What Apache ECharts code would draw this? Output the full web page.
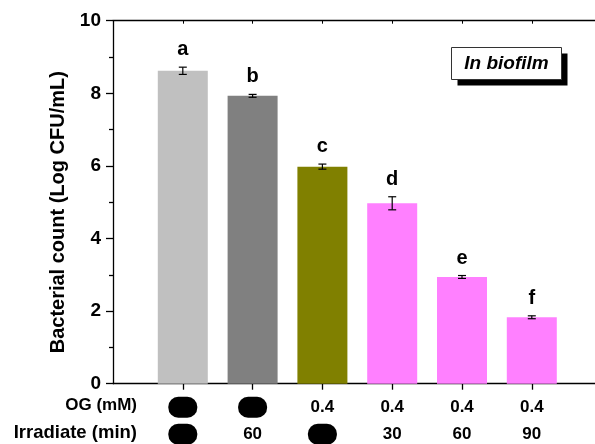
<!DOCTYPE html>
<html>
<head>
<meta charset="utf-8">
<script src="https://cdn.jsdelivr.net/npm/echarts@6/dist/echarts.min.js"></script>
<style>
  html, body { margin: 0; padding: 0; background: #fff; }
  #chart { width: 595px; height: 444px; }
</style>
</head>
<body>
<div id="chart"></div>
<script>
// Bacterial counts in biofilm for six treatment groups
const groupLetters = ['a', 'b', 'c', 'd', 'e', 'f'];
const counts = [8.62, 7.93, 5.98, 4.97, 2.94, 1.83];
const countErrors = [0.10, 0.04, 0.07, 0.18, 0.04, 0.04];
const barColors = ['#C0C0C0', '#808080', '#808000', '#FF80FF', '#FF80FF', '#FF80FF'];
// null = treatment not applied (drawn as a filled black pill)
const ogLevels = [null, null, '0.4', '0.4', '0.4', '0.4'];
const irradiateMin = [null, '60', null, '30', '60', '90'];
const yTicks = { min: 0, max: 10, interval: 2 };

const FONT = '"Liberation Sans", Arial, sans-serif';

// category slots: 0 and 7 are empty padding positions
const slots = ['', ...groupLetters, ''];

const barData = counts.map((v, i) => ({
  value: [i + 1, v],
  itemStyle: { color: barColors[i] }
}));
const errData = counts.map((v, i) => [i + 1, v, countErrors[i]]);

const chart = echarts.init(document.getElementById('chart'), null, { renderer: 'canvas' });

chart.setOption({
  animation: false,
  backgroundColor: '#fff',
  grid: {
    left: 113, top: 20.7, width: 488.6, height: 363,
    containLabel: false, outerBoundsMode: 'none'
  },
  xAxis: [{
    type: 'category',
    data: slots,
    boundaryGap: false,
    axisLine: { lineStyle: { color: '#000', width: 1.3 } },
    axisTick: {
      show: true, length: 6, inside: false,
      interval: (idx) => idx >= 1 && idx <= 6,
      lineStyle: { color: '#000', width: 1.3 }
    },
    splitLine: { show: false },
    axisLabel: {
      interval: 0,
      margin: 10,
      fontFamily: FONT,
      fontWeight: 'bold',
      fontSize: 17,
      color: '#000',
      formatter: (val, idx) => {
        if (idx < 1 || idx > 6) return '';
        const i = idx - 1;
        const og = ogLevels[i] == null ? '{pill| }' : '{v|' + ogLevels[i] + '}';
        const ir = irradiateMin[i] == null ? '{pill| }' : '{v|' + irradiateMin[i] + '}';
        return og + '\n' + ir;
      },
      rich: {
        v: { fontFamily: FONT, fontWeight: 'bold', fontSize: 17, color: '#000', lineHeight: 27 },
        pill: { width: 29, height: 21, lineHeight: 27, backgroundColor: '#000', borderRadius: 10 }
      }
    }
  }, {
    type: 'category',
    data: slots,
    position: 'top',
    boundaryGap: false,
    axisLine: { lineStyle: { color: '#000', width: 1.3 } },
    axisTick: {
      show: true, length: 3, inside: true,
      interval: (idx) => idx >= 1 && idx <= 6,
      lineStyle: { color: '#000', width: 1 }
    },
    axisLabel: { show: false },
    splitLine: { show: false }
  }],
  yAxis: {
    type: 'value',
    min: yTicks.min,
    max: yTicks.max,
    interval: yTicks.interval,
    name: 'Bacterial count (Log CFU/mL)',
    nameLocation: 'middle',
    nameGap: 45,
    nameRotate: 90,
    nameTextStyle: {
      fontFamily: FONT, fontWeight: 'bold', fontSize: 20, color: '#000',
      padding: [0, 20, 0, 0]
    },
    axisLine: { show: true, lineStyle: { color: '#000', width: 1.3 } },
    axisTick: { show: true, length: 7, inside: false, lineStyle: { color: '#000', width: 1.3 } },
    minorTick: { show: true, splitNumber: 2, length: 4, lineStyle: { color: '#000', width: 1.3 } },
    splitLine: { show: false },
    axisLabel: {
      margin: 12,
      fontFamily: FONT, fontWeight: 'bold', fontSize: 19, color: '#000'
    }
  },
  series: [{
    type: 'bar',
    data: barData,
    barWidth: 50,
    z: 2
  }, {
    type: 'custom',
    data: errData,
    z: 5,
    renderItem: (params, api) => {
      const x = api.value(0);
      const v = api.value(1);
      const e = api.value(2);
      const top = api.coord([x, v + e]);
      const bot = api.coord([x, v - e]);
      const half = 4;
      const style = { stroke: '#000', lineWidth: 1.2 };
      return {
        type: 'group',
        children: [
          { type: 'line', shape: { x1: top[0], y1: top[1], x2: bot[0], y2: bot[1] }, style },
          { type: 'line', shape: { x1: top[0] - half, y1: top[1], x2: top[0] + half, y2: top[1] }, style },
          { type: 'line', shape: { x1: bot[0] - half, y1: bot[1], x2: bot[0] + half, y2: bot[1] }, style },
          {
            type: 'text',
            style: {
              text: groupLetters[params.dataIndex],
              x: top[0], y: top[1] - 17.5,
              align: 'center', verticalAlign: 'middle',
              font: 'bold 20px ' + FONT,
              fill: '#000'
            }
          }
        ]
      };
    }
  }],
  graphic: [
    // row headers for the treatment table under the axis
    {
      type: 'text', right: 458, top: 397,
      style: { text: 'OG (mM)', font: 'bold 17px ' + FONT, fill: '#000', align: 'right' }
    },
    {
      type: 'text', right: 458, top: 423,
      style: { text: 'Irradiate (min)', font: 'bold 18.5px ' + FONT, fill: '#000', align: 'right' }
    },
    // "In biofilm" tag with a hard drop shadow
    {
      type: 'group', left: 451, top: 47,
      children: [
        { type: 'rect', shape: { x: 6, y: 6, width: 110, height: 32 }, style: { fill: '#000' } },
        { type: 'rect', shape: { x: 0, y: 0, width: 110, height: 32 }, style: { fill: '#fff', stroke: '#333', lineWidth: 1 } },
        {
          type: 'text',
          style: {
            text: 'In biofilm', x: 55, y: 16, align: 'center', verticalAlign: 'middle',
            font: 'italic bold 19px ' + FONT, fill: '#000'
          }
        }
      ]
    }
  ]
});
</script>
</body>
</html>
